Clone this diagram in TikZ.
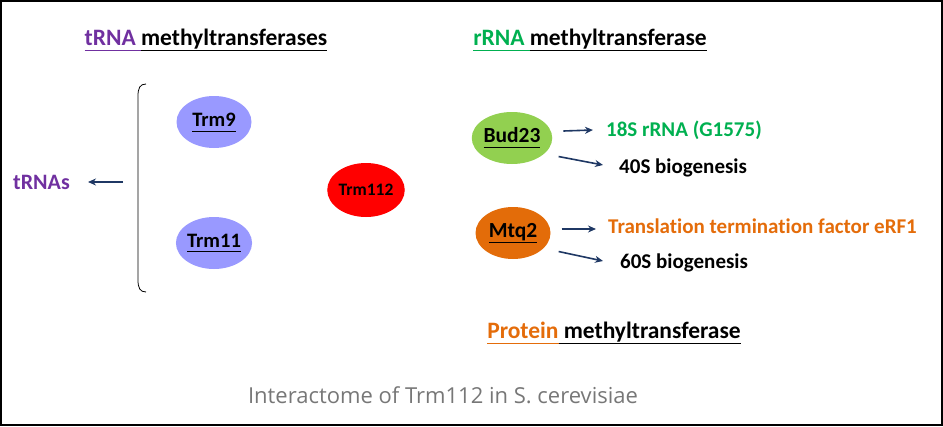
\documentclass[tikz,border=0pt]{standalone}
\usepackage{fontspec}
\setmainfont[Ligatures=NoCommon]{Carlito}
\newfontfamily\capfont{Open Sans}
\usetikzlibrary{arrows.meta,shapes.geometric}
\definecolor{tpurple}{HTML}{7030A0}
\definecolor{tgreen}{HTML}{00B050}
\definecolor{torange}{HTML}{E46C0A}
\definecolor{lav}{HTML}{9999FF}
\definecolor{budg}{HTML}{92D050}
\definecolor{mtqo}{HTML}{E36C09}
\definecolor{navy}{HTML}{1F3864}
\definecolor{capgray}{HTML}{777777}
\newcommand{\myul}[1]{\underline{#1\vphantom{y}}}
\tikzset{
  ell/.style={ellipse, minimum width=75pt, minimum height=52pt, inner sep=0pt, font=\fontsize{20.5}{22}\selectfont\bfseries},
  title/.style={inner sep=0pt, font=\fontsize{23.5}{25}\selectfont\bfseries},
  lbl/.style={inner sep=0pt, anchor=west, font=\fontsize{21}{23}\selectfont\bfseries},
  arr/.style={draw=navy, line width=1.6pt, -{Stealth[length=8pt,width=7pt]}}
}
\begin{document}
\begin{tikzpicture}[x=1pt,y=-1pt]
\useasboundingbox (0,0) rectangle (943,426);
\draw[line width=1.5pt] (1,1) rectangle (942,425);
% titles
\node[title] (ttrna) at (206,40) {\textcolor{tpurple}{\myul{tRNA }}\myul{methyltransferases}};
\node[title] (trrna) at (590,40) {\textcolor{tgreen}{\myul{rRNA }}\myul{methyltransferase}};
\node[title] (tprot) at (614,333) {\textcolor{torange}{\myul{Protein}}\myul{ methyltransferase}};
% ellipses
\node[ell, fill=lav] (trm9) at (214,122) {\myul{Trm9}};
\node[ell, fill=lav] (trm11) at (214,243) {\myul{Trm11}};
\node[ell, fill=red, minimum width=70pt, minimum height=54pt, font=\fontsize{17.5}{19}\selectfont\bfseries] (trm112) at (366,190) {Trm112};
\node[ell, fill=budg, font=\fontsize{21.5}{23}\selectfont\bfseries] (bud) at (512,138) {\myul{Bud23}};
\node[ell, fill=mtqo, font=\fontsize{21.5}{23}\selectfont\bfseries] (mtq) at (513,233) {\myul{Mtq2}};
% bracket
\coordinate (brk) at (138,188);
\draw[line width=0.8pt] (146,84) .. controls (140,84) and (138,88) .. (138,96) -- (138,280) .. controls (138,288) and (140,292) .. (146,292);
% labels
\node[lbl, anchor=east, text=tpurple, font=\fontsize{22}{24}\selectfont\bfseries] (trnas) at (70,182) {tRNAs};
\node[lbl, text=tgreen] (t18s) at (606,130) {18S rRNA (G1575)};
\node[lbl] (t40s) at (619,168) {40S biogenesis};
\node[lbl, text=torange] (tterm) at (608,226) {Translation termination factor eRF1};
\node[lbl] (t60s) at (620,263) {60S biogenesis};
% arrows (explicit pt shifts are in canvas orientation: positive y is up)
\draw[arr] ([xshift=-15pt]brk |- trnas.east) -- ([xshift=18pt]trnas.east);
\draw[arr] ([shift={(11pt,7pt)}]bud.east) -- ([xshift=-13pt]t18s.west);
\draw[arr] ([xshift=18pt]bud.south east) -- ([shift={(-16pt,3pt)}]t40s.west);
\draw[arr] ([shift={(11pt,4pt)}]mtq.east) -- ([shift={(-12pt,-3pt)}]tterm.west);
\draw[arr] ([xshift=19pt]mtq.south east) -- ([shift={(-17pt,2pt)}]t60s.west);
% caption
\node[inner sep=0pt, text=capgray, font=\capfont\fontsize{22}{24}\selectfont] (cap) at (443,395) {Interactome of Trm112 in S. cerevisiae};
\end{tikzpicture}
\end{document}
